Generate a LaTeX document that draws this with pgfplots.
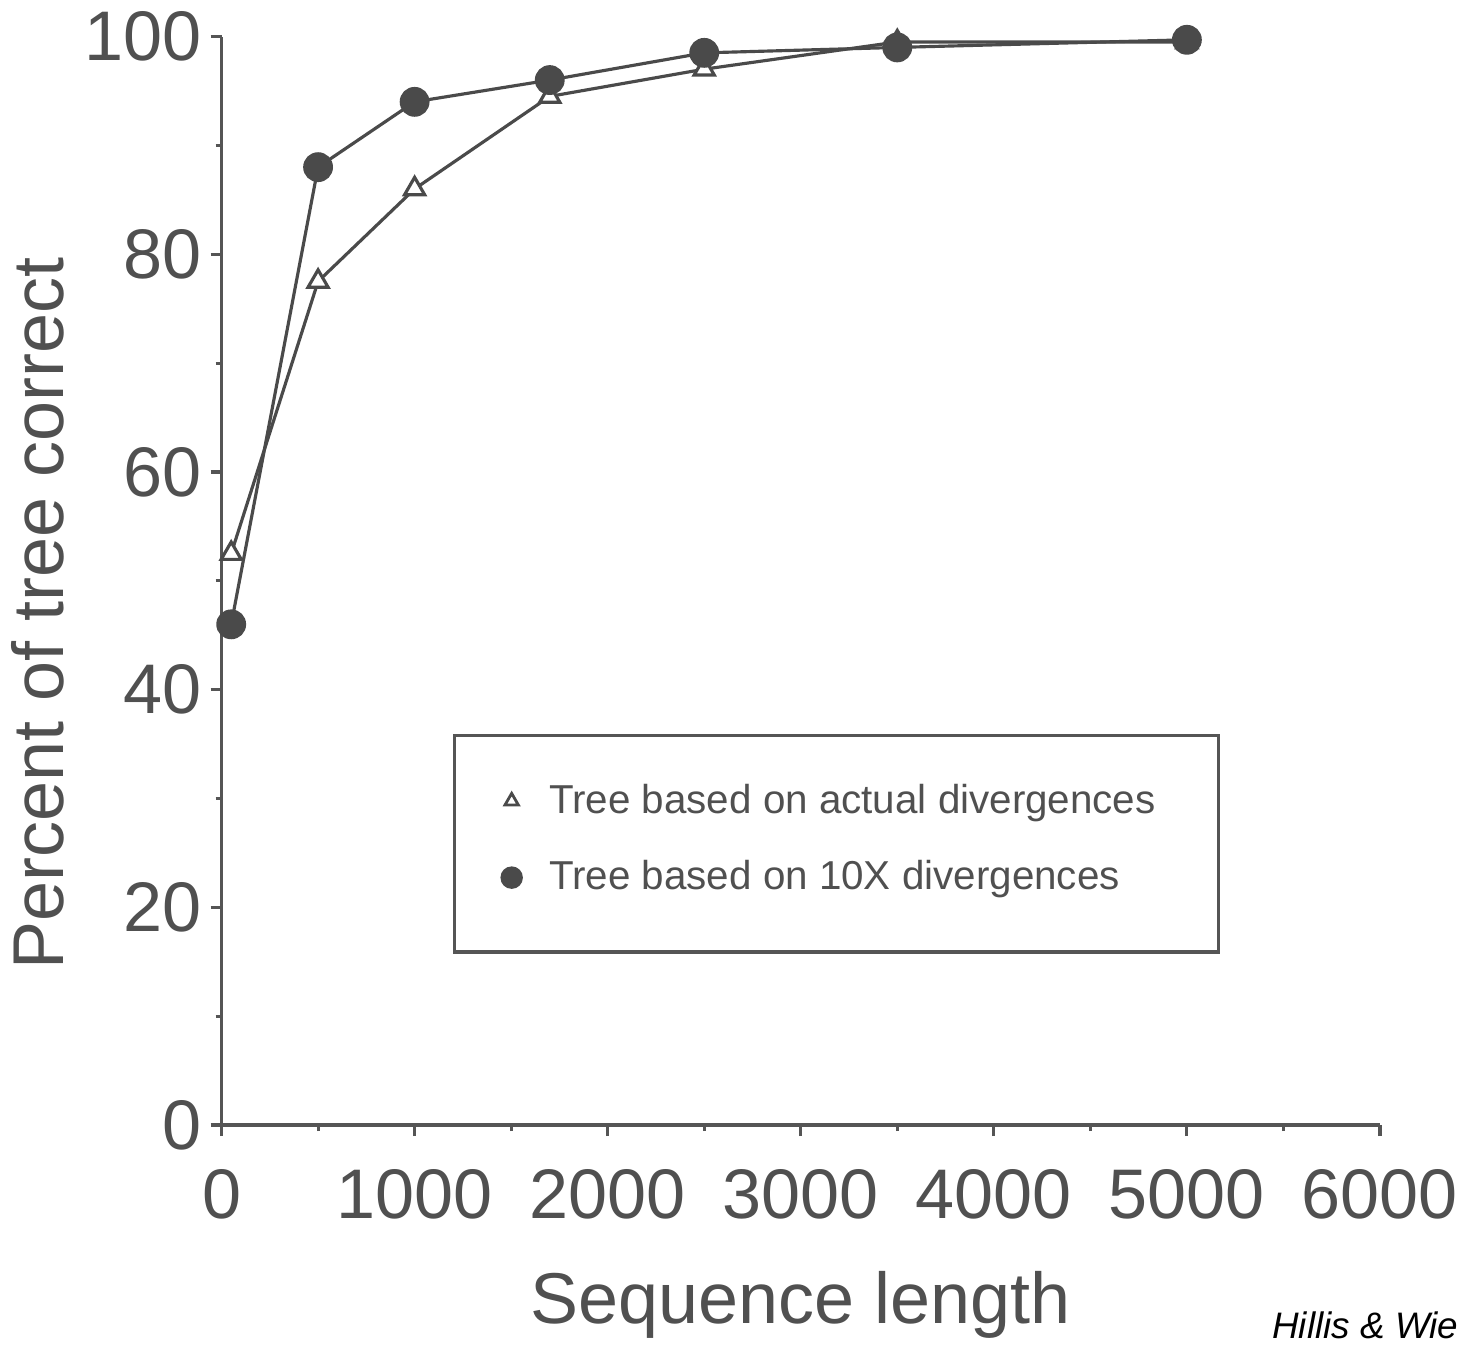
\documentclass[border=0pt]{standalone}
\usepackage{fontspec}
\setmainfont{Liberation Sans}
\usepackage{pgfplots}
\pgfplotsset{compat=1.18}

\definecolor{axisgray}{HTML}{555555}
\definecolor{linegray}{HTML}{4A4A4A}
\definecolor{textgray}{HTML}{505050}

% percent of tree correct vs. sequence length
\pgfplotstableread{
x     y
50    52.5
500   77.5
1000  86
1700  94.5
2500  97
3500  99.5
5000  99.5
}\actualdiv

\pgfplotstableread{
x     y
50    46
500   88
1000  94
1700  96
2500  98.5
3500  99
5000  99.7
}\tenxdiv

\begin{document}
\begin{tikzpicture}
\begin{axis}[
    width=116mm, height=109mm, scale only axis,
    xmin=0, xmax=6000, ymin=0, ymax=100,
    axis lines=left,
    axis line style={-, draw=axisgray, line width=0.9pt},
    xtick={0,1000,...,6000}, minor xtick={500,1500,...,5500},
    ytick={0,20,...,100}, minor ytick={10,30,...,90},
    tick align=outside,
    major tick length=1.1mm, minor tick length=0.6mm,
    tick style={draw=axisgray, line width=0.9pt},
    /pgf/number format/assume math mode=true,
    /pgf/number format/1000 sep={},
    ticklabel style={font=\fontsize{20}{24}\selectfont, text=textgray},
    xticklabel style={yshift=-2.1mm},
    yticklabel style={xshift=0.3mm},
    label style={font=\fontsize{20.5}{24}\selectfont, text=textgray},
    xlabel={Sequence length},
    ylabel={Percent of tree correct},
    xlabel style={at={(axis description cs:0.5,0)}, anchor=base, yshift=-19.9mm},
    ylabel style={at={(axis description cs:0,0.47)}, anchor=base, yshift=15.8mm},
    clip=false,
    legend style={at={(axis cs:1390,32.7)}, anchor=north west, draw=none, fill=none,
        font=\fontsize{11.5}{14}\selectfont, text=textgray, row sep=2.8mm,
        column sep=1.2mm, nodes={inner xsep=1.5mm}},
    legend cell align=left,
]
\addplot[forget plot, draw=linegray, line width=0.9pt, mark=triangle*, mark size=3.3pt,
    mark options={fill=white, draw=linegray, line width=0.9pt}] table {\actualdiv};
\addplot[forget plot, draw=linegray, line width=0.9pt, mark=*, mark size=3.8pt,
    mark options={fill=linegray, draw=linegray}] table {\tenxdiv};

\addlegendimage{only marks, mark=triangle*, mark size=2.2pt,
    mark options={fill=white, draw=linegray, line width=0.8pt}}
\addlegendentry{Tree based on actual divergences}
\addlegendimage{only marks, mark=*, mark size=3pt,
    mark options={fill=linegray, draw=linegray}}
\addlegendentry{Tree based on 10X divergences}

\draw[axisgray, line width=0.9pt] (axis cs:1205,35.8) rectangle (axis cs:5162,15.9);
\node[anchor=base east, font=\itshape\fontsize{10.5}{12}\selectfont, text=black]
    at (axis cs:6470,-19.6) {Hillis \& Wie};
\end{axis}
\end{tikzpicture}
\end{document}
